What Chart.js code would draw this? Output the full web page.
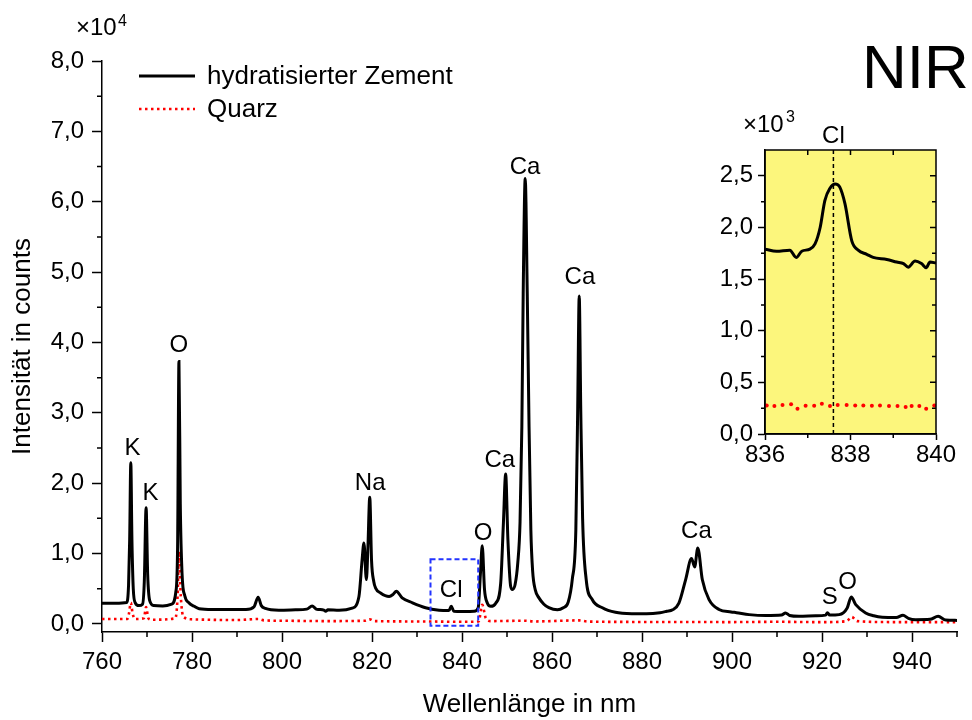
<!DOCTYPE html>
<html>
<head>
<meta charset="utf-8">
<script src="https://cdn.jsdelivr.net/npm/chart.js@4.4.1/dist/chart.umd.min.js"></script>
<style>
  body { margin: 0; background: #fff; }
  #wrap { position: relative; width: 972px; height: 720px; }
  #main { position: absolute; left: 0; top: 0; }
  #inset { position: absolute; left: 680px; top: 90px; }
</style>
</head>
<body>
<div id="wrap">
  <canvas id="main" width="972" height="720"></canvas>
  <canvas id="inset" width="292" height="390"></canvas>
</div>
<script>
// main spectrum: hydrated cement (black)
const zementWl = [760, 763, 765.5, 765.9, 766.15, 766.4, 766.65, 766.95, 767.4, 768.2, 769.0, 769.4, 769.8, 770.15, 770.6, 771.5,
  773.5, 775.5, 776.4, 776.8, 777.1, 777.4, 777.8, 778.4, 779.3, 780.5, 781.6, 784.5, 788, 792, 793.8, 794.7, 795.4, 796.3,
  799.3, 803, 805.5, 806.7, 807.6, 808.2, 809.3, 809.7, 810.2, 812.7, 815.6, 817.1, 817.8, 818.2, 818.75, 819.1, 819.5,
  819.9, 820.4, 820.8, 821.9, 823.8, 824.7, 825.4, 826.7, 829, 831.9, 834.9, 837.1, 837.6, 838.2, 840, 842.7, 843.6,
  844.1, 844.5, 845.0, 845.6, 846.4, 847.5, 848.6, 849.2, 849.7, 850.2, 850.8, 851.2, 851.8, 852.4, 852.9, 853.3, 853.6,
  854.05, 854.5, 854.9, 855.3, 855.7, 856.3, 857.1, 858.2, 859.3, 861.2, 862.5, 863.6, 864.5, 865.3, 865.7, 866.05,
  866.4, 866.8, 867.6, 868.9, 871.2, 874.1, 877.8, 881, 884, 885.5, 886.8, 888.2, 889.7, 891.0, 891.7, 892.4, 893.4,
  894.9, 897.1, 899.8, 901, 903.8, 907.5, 911, 911.9, 912.8, 914.9, 918.6, 920.8, 921.2, 921.7, 923.8, 925.6, 926.5,
  927.5, 929.7, 931.5, 933.4, 936.5, 938.0, 939.2, 940.8, 944, 945.8, 947.5, 950];
const zementCounts = [2950, 2950, 3050, 5500, 12000, 22900, 12000, 5000, 3000, 2600, 2800, 6000, 16500, 7000, 3300, 2600,
  2550, 2800, 4500, 11000, 37300, 17000, 7000, 4000, 3000, 2500, 2150, 2050, 2050, 2050, 2450, 3800, 2600, 2200,
  1950, 2000, 2100, 2550, 2100, 2050, 1950, 1800, 2000, 1950, 2250, 3900, 9100, 11500, 6300, 11000, 18000,
  9000, 6000, 5100, 4400, 3900, 4200, 4650, 3700, 3000, 2300, 1950, 1900, 2500, 1800, 1750, 1800, 2300,
  7200, 11100, 4900, 3000, 2500, 2950, 5800, 14300, 21300, 12000, 5400, 4900, 5600, 8700, 14500, 28000, 47000,
  63300, 47000, 28000, 13400, 7500, 4800, 3700, 2800, 2300, 2000, 2300, 3100, 6300, 13400, 30000, 46600,
  30000, 15000, 6300, 3500, 2300, 1650, 1460, 1450, 1600, 1800, 2000, 2950, 6300, 9300, 8100, 10800, 6300,
  3450, 2050, 1700, 1600, 1320, 1180, 1250, 1560, 1200, 1080, 1150, 1250, 1600, 1250, 1320, 2270, 3830,
  2740, 1560, 1150, 940, 900, 1230, 800, 600, 650, 1080, 550, 500];

// main spectrum: quartz (red dotted)
const quarzWl = [760, 765.6, 766.0, 766.4, 766.8, 767.3, 769.3, 769.8, 770.3, 771, 776.3, 776.8, 777.1, 777.5, 778.1, 780,
  790, 794.7, 796, 800, 810, 818.3, 819.5, 820.5, 830, 840, 843.7, 844.5, 845.3, 846.5, 854, 856, 866, 868, 880,
  900, 910, 920, 925.5, 926.6, 927.8, 935, 940, 950];
const quarzCounts = [700, 700, 1500, 3000, 1500, 700, 800, 2400, 800, 600, 800, 4000, 10300, 4000, 1000, 650,
  550, 700, 500, 450, 400, 450, 650, 400, 350, 300, 350, 2700, 800, 400, 450, 350, 500, 330, 280,
  260, 300, 250, 400, 1000, 400, 260, 250, 250];

// inset (836-840 nm)
const insetWl = [836.0, 836.27, 836.58, 836.73, 836.86, 837.05, 837.17, 837.29, 837.40, 837.52, 837.64, 837.75, 837.87,
  838.03, 838.18, 838.38, 838.53, 838.85, 839.08, 839.24, 839.35, 839.51, 839.66, 839.77, 839.86, 840.0];
const insetCounts = [1790, 1770, 1780, 1710, 1770, 1790, 1840, 2000, 2260, 2380, 2420, 2390, 2230,
  1870, 1780, 1740, 1710, 1690, 1665, 1650, 1615, 1675, 1650, 1610, 1665, 1655];
const insetQuarzWl = [836.04, 836.22, 836.41, 836.61, 836.76, 836.95, 837.15, 837.33, 837.52, 837.70, 837.91, 838.11,
  838.30, 838.50, 838.69, 838.90, 839.10, 839.29, 839.43, 839.61, 839.77, 839.96];
const insetQuarzCounts = [277, 271, 280, 287, 245, 274, 274, 293, 271, 280, 280, 277,
  277, 274, 277, 271, 271, 261, 271, 271, 245, 277];
const clLineWl = [837.6, 837.6];
const clLineCounts = [0, 2750];

// ticks
const xTicks = [760, 770, 780, 790, 800, 810, 820, 830, 840, 850, 860, 870, 880, 890, 900, 910, 920, 930, 940, 950];
const yTicks = [0, 5000, 10000, 15000, 20000, 25000, 30000, 35000, 40000, 45000, 50000, 55000, 60000, 65000, 70000, 75000, 80000];
const insetXTicks = [836, 837, 838, 839, 840];
const insetYTicks = [0, 250, 500, 750, 1000, 1250, 1500, 1750, 2000, 2250, 2500];

// element labels (text, wavelength, counts at baseline)
const lineNames = ['K', 'K', 'O', 'Na', 'Cl', 'O', 'Ca', 'Ca', 'Ca', 'Ca', 'S', 'O'];
const lineNameWl = [766.8, 770.8, 777.1, 819.6, 837.6, 844.7, 848.4, 854.0, 866.2, 892.1, 921.7, 925.7];
const lineNameCounts = [24050, 17650, 38700, 19080, 3880, 11970, 22340, 63960, 48340, 12260, 2880, 5010];

const FONT = "'Liberation Sans', Arial, sans-serif";
Chart.defaults.font.family = FONT;
Chart.defaults.color = '#000';

const toXY = (xs, ys) => xs.map((x, i) => ({ x: x, y: ys[i] }));
const isMajorX = v => v % 20 === 0 && v <= 940;

const mainDecor = {
  id: 'mainDecor',
  afterDraw(chart) {
    const { ctx, scales: { x, y } } = chart;
    ctx.save();
    // minor ticks
    ctx.strokeStyle = '#000';
    ctx.lineWidth = 1.5;
    ctx.beginPath();
    x.ticks.forEach(t => {
      if (!isMajorX(t.value)) {
        const px = x.getPixelForValue(t.value);
        ctx.moveTo(px, y.bottom);
        ctx.lineTo(px, y.bottom + 5);
      }
    });
    y.ticks.forEach(t => {
      if (t.value % 10000 !== 0) {
        const py = y.getPixelForValue(t.value);
        ctx.moveTo(x.left, py);
        ctx.lineTo(x.left - 5, py);
      }
    });
    ctx.stroke();

    // blue box around Cl
    ctx.strokeStyle = '#2233ff';
    ctx.lineWidth = 2;
    ctx.setLineDash([5, 3]);
    const bx0 = x.getPixelForValue(833), bx1 = x.getPixelForValue(843.6);
    const by0 = y.getPixelForValue(9200), by1 = y.getPixelForValue(-250);
    ctx.strokeRect(bx0, by0, bx1 - bx0, by1 - by0);
    ctx.setLineDash([]);

    // element labels
    ctx.fillStyle = '#000';
    ctx.font = '24px ' + FONT;
    ctx.textAlign = 'center';
    ctx.textBaseline = 'alphabetic';
    lineNames.forEach((n, i) => {
      ctx.fillText(n, x.getPixelForValue(lineNameWl[i]), y.getPixelForValue(lineNameCounts[i]));
    });

    // legend
    const ds = chart.data.datasets;
    const rows = [76, 109];
    ds.forEach((d, i) => {
      ctx.strokeStyle = d.borderColor;
      ctx.lineWidth = d.borderWidth;
      ctx.setLineDash(d.borderDash || []);
      ctx.beginPath();
      ctx.moveTo(139, rows[i]);
      ctx.lineTo(195, rows[i]);
      ctx.stroke();
      ctx.setLineDash([]);
      ctx.font = '26px ' + FONT;
      ctx.textAlign = 'left';
      ctx.textBaseline = 'middle';
      ctx.fillText(d.label, 207, rows[i] + 1);
    });

    // exponent
    ctx.textBaseline = 'alphabetic';
    ctx.font = '24px ' + FONT;
    ctx.fillText('\u00d710', 76, 35);
    ctx.font = '16px ' + FONT;
    ctx.fillText('4', 118, 26);

    // NIR
    ctx.font = '62px ' + FONT;
    ctx.fillText('NIR', 862, 88);
    ctx.restore();
  }
};

new Chart(document.getElementById('main'), {
  type: 'line',
  data: {
    datasets: [
      {
        label: 'hydratisierter Zement',
        data: toXY(zementWl, zementCounts),
        borderColor: '#000',
        borderWidth: 3,
        pointRadius: 0,
        cubicInterpolationMode: 'monotone',
        order: 0
      },
      {
        label: 'Quarz',
        data: toXY(quarzWl, quarzCounts),
        borderColor: '#ff0000',
        borderWidth: 2.6,
        borderDash: [2.5, 3.5],
        pointRadius: 0,
        cubicInterpolationMode: 'monotone',
        order: 1
      }
    ]
  },
  options: {
    responsive: false,
    animation: false,
    devicePixelRatio: 1,
    layout: { padding: { left: 0, right: 15, top: 61, bottom: 0 } },
    plugins: { legend: { display: false }, tooltip: { enabled: false } },
    scales: {
      x: {
        type: 'linear',
        min: 760,
        max: 950,
        afterBuildTicks: s => { s.ticks = xTicks.map(v => ({ value: v })); },
        afterFit: s => { s.height = 88; },
        grid: {
          drawOnChartArea: false,
          tickLength: 10,
          tickWidth: 1.5,
          tickColor: c => isMajorX(c.tick.value) ? '#000' : 'rgba(0,0,0,0)'
        },
        border: { display: true, color: '#000', width: 1.5 },
        ticks: {
          autoSkip: false,
          maxRotation: 0,
          padding: 6,
          font: { size: 24 },
          callback: v => isMajorX(v) ? String(v) : ''
        },
        title: { display: true, text: 'Wellenlänge in nm', font: { size: 26 }, padding: { top: 0, bottom: 0 } }
      },
      y: {
        min: -1150,
        max: 80000,
        afterBuildTicks: s => { s.ticks = yTicks.map(v => ({ value: v })); },
        afterFit: s => { s.width = 102; },
        grid: {
          drawOnChartArea: false,
          tickLength: 10,
          tickWidth: 1.5,
          tickColor: c => c.tick.value % 10000 === 0 ? '#000' : 'rgba(0,0,0,0)'
        },
        border: { display: true, color: '#000', width: 1.5 },
        ticks: {
          autoSkip: false,
          padding: 8,
          font: { size: 24 },
          callback: v => v % 10000 === 0 ? (v / 10000).toFixed(1).replace('.', ',') : ''
        },
        title: { display: true, text: 'Intensität in counts', font: { size: 26 }, padding: { top: 7, bottom: 0 } }
      }
    }
  },
  plugins: [mainDecor]
});

// ---------- inset ----------
const insetDecor = {
  id: 'insetDecor',
  beforeDraw(chart) {
    const { ctx, chartArea: a } = chart;
    ctx.save();
    ctx.fillStyle = '#fcf67c';
    ctx.fillRect(a.left, a.top, a.right - a.left, a.bottom - a.top);
    ctx.restore();
  },
  afterDraw(chart) {
    const { ctx, chartArea: a, scales: { x, y } } = chart;
    ctx.save();
    ctx.strokeStyle = '#000';
    ctx.lineWidth = 1.5;
    ctx.strokeRect(a.left, a.top, a.right - a.left, a.bottom - a.top);
    ctx.beginPath();
    // minor outer ticks and inner ticks on top/right
    x.ticks.forEach(t => {
      const px = x.getPixelForValue(t.value);
      if (t.value % 2 !== 0) {
        ctx.moveTo(px, a.bottom);
        ctx.lineTo(px, a.bottom + 4);
      }
      if (t.value > 836 && t.value < 840) {
        ctx.moveTo(px, a.top);
        ctx.lineTo(px, a.top + 5);
      }
    });
    y.ticks.forEach(t => {
      const py = y.getPixelForValue(t.value);
      const major = t.value % 500 === 0;
      if (!major) {
        ctx.moveTo(a.left, py);
        ctx.lineTo(a.left - 4, py);
      }
      if (t.value > 0) {
        ctx.moveTo(a.right, py);
        ctx.lineTo(a.right - (major ? 6 : 4), py);
      }
    });
    ctx.stroke();

    ctx.fillStyle = '#000';
    ctx.textBaseline = 'alphabetic';
    ctx.textAlign = 'center';
    ctx.font = '24px ' + FONT;
    ctx.fillText('Cl', x.getPixelForValue(clLineWl[0]), 53);
    ctx.textAlign = 'left';
    ctx.font = '24px ' + FONT;
    ctx.fillText('\u00d710', 63, 42);
    ctx.font = '16px ' + FONT;
    ctx.fillText('3', 106, 32);
    ctx.restore();
  }
};

new Chart(document.getElementById('inset'), {
  type: 'line',
  data: {
    datasets: [
      {
        data: toXY(insetWl, insetCounts),
        borderColor: '#000',
        borderWidth: 3,
        pointRadius: 0,
        cubicInterpolationMode: 'monotone'
      },
      {
        data: toXY(insetQuarzWl, insetQuarzCounts),
        showLine: false,
        pointRadius: 2,
        pointBorderWidth: 0,
        pointBackgroundColor: '#ff0000'
      },
      {
        data: toXY(clLineWl, clLineCounts),
        borderColor: '#000',
        borderWidth: 1.5,
        borderDash: [4, 3],
        pointRadius: 0
      }
    ]
  },
  options: {
    responsive: false,
    animation: false,
    devicePixelRatio: 1,
    layout: { padding: { left: 0, right: 36, top: 60, bottom: 0 } },
    plugins: { legend: { display: false }, tooltip: { enabled: false } },
    scales: {
      x: {
        type: 'linear',
        min: 836,
        max: 840,
        afterBuildTicks: s => { s.ticks = insetXTicks.map(v => ({ value: v })); },
        afterFit: s => { s.height = 46; },
        grid: {
          drawOnChartArea: false,
          tickLength: 6,
          tickWidth: 1.5,
          tickColor: c => c.tick.value % 2 === 0 ? '#000' : 'rgba(0,0,0,0)'
        },
        border: { display: true, color: '#000', width: 1.5 },
        ticks: {
          autoSkip: false,
          maxRotation: 0,
          padding: 1,
          font: { size: 24 },
          callback: v => v % 2 === 0 ? String(v) : ''
        }
      },
      y: {
        min: 0,
        max: 2750,
        afterBuildTicks: s => { s.ticks = insetYTicks.map(v => ({ value: v })); },
        afterFit: s => { s.width = 85; },
        grid: {
          drawOnChartArea: false,
          tickLength: 7,
          tickWidth: 1.5,
          tickColor: c => c.tick.value % 500 === 0 ? '#000' : 'rgba(0,0,0,0)'
        },
        border: { display: true, color: '#000', width: 1.5 },
        ticks: {
          autoSkip: false,
          padding: 5,
          font: { size: 24 },
          callback: v => v % 500 === 0 ? (v / 1000).toFixed(1).replace('.', ',') : ''
        }
      }
    }
  },
  plugins: [insetDecor]
});
</script>
</body>
</html>
